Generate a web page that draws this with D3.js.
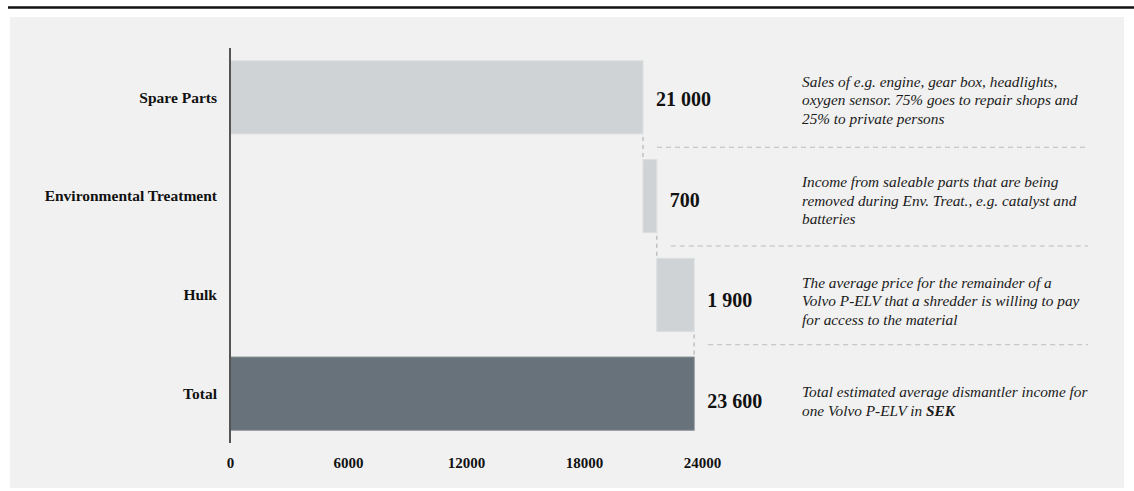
<!DOCTYPE html>
<html>
<head>
<meta charset="utf-8">
<script src="https://cdn.jsdelivr.net/npm/d3@7"></script>
<style>
  html, body { margin: 0; padding: 0; background: #ffffff; }
  svg { display: block; }
</style>
</head>
<body>
<svg id="chart" width="1134" height="491"></svg>
<script>
// Income streams for one dismantled vehicle (SEK)
const categories = ["Spare Parts", "Environmental Treatment", "Hulk", "Total"];
const values = [21000, 700, 1900, 23600];
const isTotal = [false, false, false, true];
const valueLabels = ["21 000", "700", "1 900", "23 600"];
const tickValues = [0, 6000, 12000, 18000, 24000];
const notes = [
  ["Sales of e.g. engine, gear box, headlights,", "oxygen sensor. 75% goes to repair shops and", "25% to private persons"],
  ["Income from saleable parts that are being", "removed during Env. Treat., e.g. catalyst and", "batteries"],
  ["The average price for the remainder of a", "Volvo P-ELV that a shredder is willing to pay", "for access to the material"],
  ["Total estimated average dismantler income for", "one Volvo P-ELV in |SEK|"]
];

// waterfall segments: each step starts where the previous one ended, the total starts at zero
let running = 0;
const rows = categories.map((c, i) => {
  const start = isTotal[i] ? 0 : running;
  const end = start + values[i];
  if (!isTotal[i]) running = end;
  return { cat: c, value: values[i], start, end, total: isTotal[i], label: valueLabels[i], note: notes[i] };
});

const svg = d3.select("#chart");
const serif = "'Liberation Serif', 'Times New Roman', serif";

// page frame
svg.append("line").attr("x1", 8).attr("x2", 1134).attr("y1", 7.5).attr("y2", 7.5)
  .attr("stroke", "#111").attr("stroke-width", 2.5);
svg.append("rect").attr("x", 10).attr("y", 17).attr("width", 1114).attr("height", 471)
  .attr("fill", "#f1f1f1");

const x = d3.scaleLinear().domain([0, 24000]).range([230, 702]);
const y = d3.scaleBand().domain(categories).range([48, 443]).paddingInner(0.26).paddingOuter(0.13);
// rows for the value labels and notes column
const yText = d3.scaleBand().domain(categories).range([49, 451]);
const rowMid = c => yText(c) + yText.bandwidth() / 2;

// bars
svg.append("g").selectAll("rect").data(rows).join("rect")
  .attr("x", d => x(d.start))
  .attr("y", d => y(d.cat))
  .attr("width", d => x(d.end) - x(d.start))
  .attr("height", y.bandwidth())
  .attr("fill", d => d.total ? "#68727a" : "#d0d3d5")
  .attr("stroke", d => d.total ? "#7d868d" : "#dcdee0")
  .attr("stroke-width", 1);

// vertical connectors between consecutive bars
const conn = svg.append("g").attr("stroke", "#b9b9b9").attr("stroke-width", 1.3)
  .attr("stroke-dasharray", "4,4");
for (let i = 0; i < rows.length - 1; i++) {
  const xe = x(rows[i].end);
  conn.append("line")
    .attr("x1", xe).attr("x2", xe)
    .attr("y1", y(rows[i].cat) + y.bandwidth() + 3)
    .attr("y2", y(rows[i + 1].cat) - 2);
}

// horizontal separators between rows, starting at the value label of the row above
const sep = svg.append("g").attr("stroke", "#bcbcbc").attr("stroke-width", 1.2)
  .attr("stroke-dasharray", "5,4");
for (let i = 0; i < rows.length - 1; i++) {
  const ym = (y(rows[i].cat) + y.bandwidth() + y(rows[i + 1].cat)) / 2 + 0.5;
  sep.append("line")
    .attr("x1", x(rows[i].end) + 14).attr("x2", 1088)
    .attr("y1", ym).attr("y2", ym);
}

// y axis
const yAxis = svg.append("g").attr("transform", "translate(230,0)")
  .call(d3.axisLeft(y).tickSize(0).tickPadding(13));
yAxis.select(".domain").remove();
yAxis.append("line").attr("x1", 0).attr("x2", 0).attr("y1", 48).attr("y2", 443)
  .attr("stroke", "#555").attr("stroke-width", 2);
yAxis.selectAll(".tick text")
  .attr("font-family", serif).attr("font-size", 15.5).attr("font-weight", "bold")
  .attr("fill", "#111").attr("dy", "0.33em");

// x axis
const xAxis = svg.append("g").attr("transform", "translate(0,443)")
  .call(d3.axisBottom(x).tickValues(tickValues).tickSize(0).tickPadding(14).tickFormat(d3.format("d")));
xAxis.select(".domain").remove();
xAxis.selectAll(".tick text")
  .attr("font-family", serif).attr("font-size", 15).attr("font-weight", "bold")
  .attr("fill", "#111");

// value labels
svg.append("g").selectAll("text").data(rows).join("text")
  .attr("x", d => x(d.end) + 13)
  .attr("y", d => rowMid(d.cat) + 7)
  .attr("font-family", serif).attr("font-size", 20).attr("font-weight", "bold")
  .attr("fill", "#111")
  .text(d => d.label);

// notes
const lh = 18.6;
const noteG = svg.append("g");
rows.forEach(d => {
  const n = d.note.length;
  const t = noteG.append("text")
    .attr("font-family", serif).attr("font-size", 15.3).attr("font-style", "italic")
    .attr("fill", "#1a1a1a");
  d.note.forEach((line, j) => {
    const yy = rowMid(d.cat) + 6 + (j - (n - 1) / 2) * lh;
    const parts = line.split("|");
    parts.forEach((p, k) => {
      if (!p) return;
      const ts = t.append("tspan").text(p);
      if (k === 0 || (k === 1 && !parts[0])) ts.attr("x", 802).attr("y", yy);
      if (k % 2 === 1) ts.attr("font-weight", "bold");
    });
  });
});
</script>
</body>
</html>
